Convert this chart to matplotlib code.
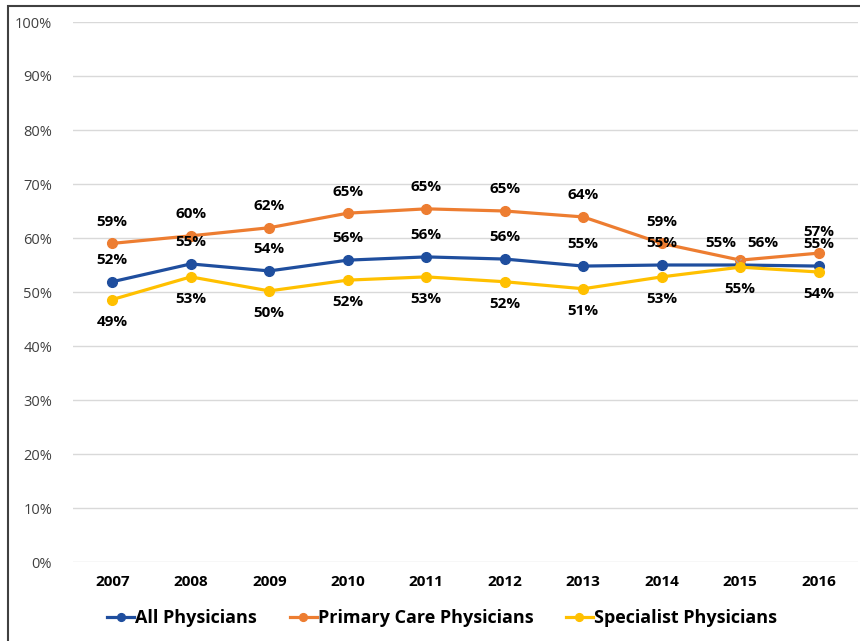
import numpy as np
import matplotlib.pyplot as plt
from matplotlib.patches import Rectangle

plt.rcParams['font.family'] = ['Open Sans', 'DejaVu Sans']

years = [2007, 2008, 2009, 2010, 2011, 2012, 2013, 2014, 2015, 2016]
all_phys = [51.9, 55.2, 53.9, 55.9, 56.5, 56.1, 54.8, 55.0, 55.0, 54.8]
primary = [59.0, 60.4, 61.9, 64.6, 65.4, 65.0, 63.9, 59.0, 55.9, 57.2]
specialist = [48.6, 52.8, 50.2, 52.2, 52.8, 51.9, 50.6, 52.8, 54.6, 53.7]

c_all = '#1f4e9e'
c_pri = '#ed7d31'
c_spe = '#ffc000'

fig = plt.figure(figsize=(8.6, 6.41), dpi=100)
ax = fig.add_axes([73/860, 1-562/641, 785/860, 540/641])

# border around the chart (clipped at right/bottom like the screenshot)
fig.patches.append(Rectangle((8/860, -0.1), 1.2, 1-6/641+0.1, transform=fig.transFigure,
                             fill=False, edgecolor='#404040', linewidth=1.5))

ax.plot(years, all_phys, color=c_all, lw=2.3, marker='o', ms=7, label='All Physicians', zorder=3)
ax.plot(years, primary, color=c_pri, lw=2.3, marker='o', ms=7, label='Primary Care Physicians', zorder=3)
ax.plot(years, specialist, color=c_spe, lw=2.3, marker='o', ms=7, label='Specialist Physicians', zorder=3)

lab = dict(fontsize=11, fontweight='bold', ha='center', va='center', color='black')
for i, yr in enumerate(years):
    if yr == 2015:
        continue
    ax.annotate(f'{primary[i]:.0f}%', (yr, primary[i]), xytext=(0, 15.5), textcoords='offset points', **lab)
    ax.annotate(f'{all_phys[i]:.0f}%', (yr, all_phys[i]), xytext=(0, 16), textcoords='offset points', **lab)
    ax.annotate(f'{specialist[i]:.0f}%', (yr, specialist[i]), xytext=(0, -16), textcoords='offset points', **lab)

# 2015 labels with leader lines
i = years.index(2015)
ax.annotate(f'{all_phys[i]:.0f}%', (2015, all_phys[i]), xytext=(-14, 16), textcoords='offset points',
            arrowprops=dict(arrowstyle='-', color='#a6a6a6', lw=0.8, shrinkA=7, shrinkB=2), **lab)
ax.annotate(f'{primary[i]:.0f}%', (2015, primary[i]), xytext=(16, 12), textcoords='offset points',
            arrowprops=dict(arrowstyle='-', color='#a6a6a6', lw=0.8, shrinkA=7, shrinkB=2), **lab)
ax.annotate(f'{specialist[i]:.0f}%', (2015, specialist[i]), xytext=(0, -16), textcoords='offset points', **lab)

ax.set_xlim(2006.5, 2016.5)
ax.set_ylim(0, 100)
ax.set_yticks(np.arange(0, 101, 10))
ax.set_yticklabels([f'{v}%' for v in range(0, 101, 10)], fontsize=10.5, color='#404040')
ax.set_xticks(years)
ax.set_xticklabels([str(y) for y in years], fontsize=11, fontweight='bold', color='black')
ax.tick_params(length=0)
ax.tick_params(axis='y', pad=15)
ax.tick_params(axis='x', pad=9)
ax.grid(axis='y', color='#d9d9d9', lw=1)
ax.set_axisbelow(True)
for s in ax.spines.values():
    s.set_visible(False)

leg = ax.legend(loc='center', bbox_to_anchor=(442/860, 1-618/641), bbox_transform=fig.transFigure,
                ncol=3, frameon=False, prop={'size': 13, 'weight': 'bold'},
                handlelength=1.5, handletextpad=0.05, columnspacing=1.8, markerscale=0.8)

fig.savefig('out.png', dpi=100)
